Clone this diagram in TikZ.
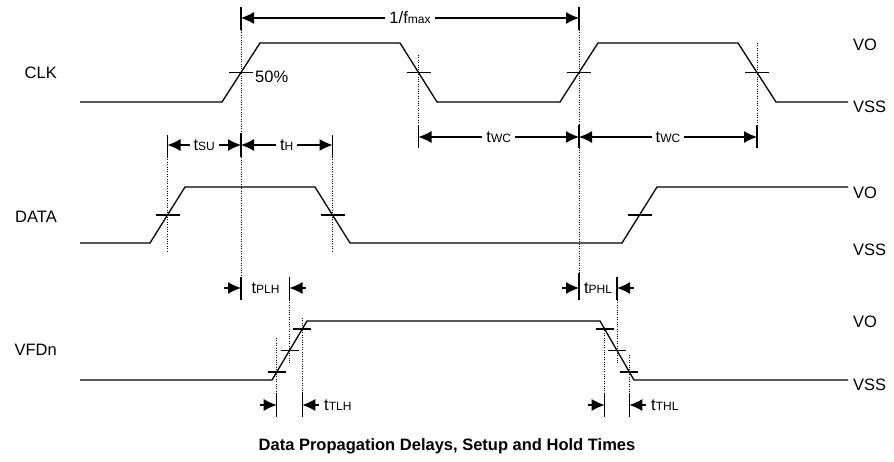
\documentclass[tikz,border=0pt]{standalone}
\usepackage{fontspec}
\setmainfont{Liberation Sans}
\usetikzlibrary{arrows.meta}
\newcommand{\tsub}[2]{#1{\fontsize{12}{12}\selectfont #2}}

\begin{document}
\begin{tikzpicture}[x=1pt,y=-1pt,
  every node/.style={font=\fontsize{16.5}{19}\selectfont,inner sep=1pt},
  wave/.style={line width=1.3pt},
  guide/.style={line width=0.8pt,dash pattern=on 1pt off 1.4pt},
  bar/.style={line width=1.1pt},
  dim/.style={line width=1.1pt,{Latex[length=13pt,width=12pt]}-{Latex[length=13pt,width=12pt]}},
  push/.style={line width=1.1pt,-{Latex[length=13pt,width=12pt]}},
  lbl/.style={fill=white,inner sep=4pt}]
\useasboundingbox (0,0) rectangle (894,462);

\node[anchor=east] (clk) at (58,73) {CLK};
\node[anchor=east] (data) at (58,217) {DATA};
\node[anchor=east] (vfdn) at (58,350) {VFDn};
\node[anchor=west] (clkvo) at (852,45) {VO};
\node[anchor=west] (clkvss) at (852,107) {VSS};
\node[anchor=west] (datavo) at (852,193) {VO};
\node[anchor=west] (datavss) at (852,250) {VSS};
\node[anchor=west] (vfdnvo) at (852,322) {VO};
\node[anchor=west] (vfdnvss) at (852,385) {VSS};

\draw[wave] (80,102) -- (222,102) -- (260,43) -- (400,43) -- (437,102) -- (560,102)
  -- (598,43) -- (738,43) -- (776,102) -- (848,102);
\draw[wave] (80,243) -- (150,243) -- (185,187) -- (315,187) -- (350,243) -- (622,243)
  -- (657,187) -- (848,187);
\draw[wave] (80,380) -- (272,380) -- (307,321) -- (600,321) -- (634,380) -- (848,380);

\foreach \x/\y in {241/72.5,418.5/72.5,579/72.5,757/72.5,167.5/215,332.5/215,639.5/215}
  \draw[bar] (\x-12,\y) -- (\x+12,\y);
\foreach \x/\y in {276.7/372,289.5/350.5,302.3/329,604.6/329,617/350.5,629.4/372}
  \draw[bar] (\x-9,\y) -- (\x+9,\y);

\foreach \x/\a/\b in {241/30/277,579/30/273,418.5/55/125,757/43/125,167.5/157/253,
  332.5/157/253,289.5/300/363,617/300/363,276.7/338/393,302.3/318/393,604.6/328/393,629.4/355/393}
  \draw[guide] (\x,\a) -- (\x,\b);
\foreach \x/\a/\b in {241/7/30,241/133/157,241/277/300,579/7/30,579/125/148,579/273/300,
  418.5/125/148,757/125/148,167.5/135/157,332.5/135/157,289.5/277/300,617/277/300,
  276.7/393/417,302.3/393/417,604.6/393/417,629.4/393/417}
  \draw[bar] (\x,\a) -- (\x,\b);

\coordinate (fmaxA) at (241,18);
\coordinate (fmaxB) at (579,18);
\draw[dim] (fmaxA) -- node[lbl] {1/\tsub{f}{max}} (fmaxB);
\coordinate (wcA) at (418.5,137);
\coordinate (wcB) at (579,137);
\coordinate (wcC) at (757,137);
\draw[dim] (wcA) -- node[lbl] {\tsub{t}{WC}} (wcB);
\draw[dim] (wcB) -- node[lbl] {\tsub{t}{WC}} (wcC);
\coordinate (suA) at (167.5,145);
\coordinate (suB) at (241,145);
\coordinate (hB) at (332.5,145);
\draw[dim] (suA) -- node[lbl] {\tsub{t}{SU}} (suB);
\draw[dim] (suB) -- node[lbl] {\tsub{t}{H}} (hB);

\node[anchor=west] (fifty) at (254,77) {50\%};

\coordinate (plh1) at (224,288);
\coordinate (plh2) at (241,288);
\coordinate (plh3) at (289.5,288);
\coordinate (plh4) at (306,288);
\draw[push] (plh1) -- (plh2);
\draw[push] (plh4) -- (plh3);
\node (tplh) at (265.5,288) {\tsub{t}{PLH}};
\coordinate (phl1) at (562,288);
\coordinate (phl2) at (579,288);
\coordinate (phl3) at (617,288);
\coordinate (phl4) at (634,288);
\draw[push] (phl1) -- (phl2);
\draw[push] (phl4) -- (phl3);
\node (tphl) at (598,288) {\tsub{t}{PHL}};

\coordinate (tlh1) at (260,405);
\coordinate (tlh2) at (276.7,405);
\coordinate (tlh3) at (302.3,405);
\coordinate (tlh4) at (319,405);
\draw[push] (tlh1) -- (tlh2);
\draw[push] (tlh4) -- (tlh3);
\node[anchor=west] (ttlh) at (323,405) {\tsub{t}{TLH}};
\coordinate (thl1) at (588,405);
\coordinate (thl2) at (604.6,405);
\coordinate (thl3) at (629.4,405);
\coordinate (thl4) at (646,405);
\draw[push] (thl1) -- (thl2);
\draw[push] (thl4) -- (thl3);
\node[anchor=west] (tthl) at (650,405) {\tsub{t}{THL}};

\node[font=\bfseries\fontsize{16.5}{19}\selectfont] (title) at (447,446)
  {Data Propagation Delays, Setup and Hold Times};
\end{tikzpicture}
\end{document}
